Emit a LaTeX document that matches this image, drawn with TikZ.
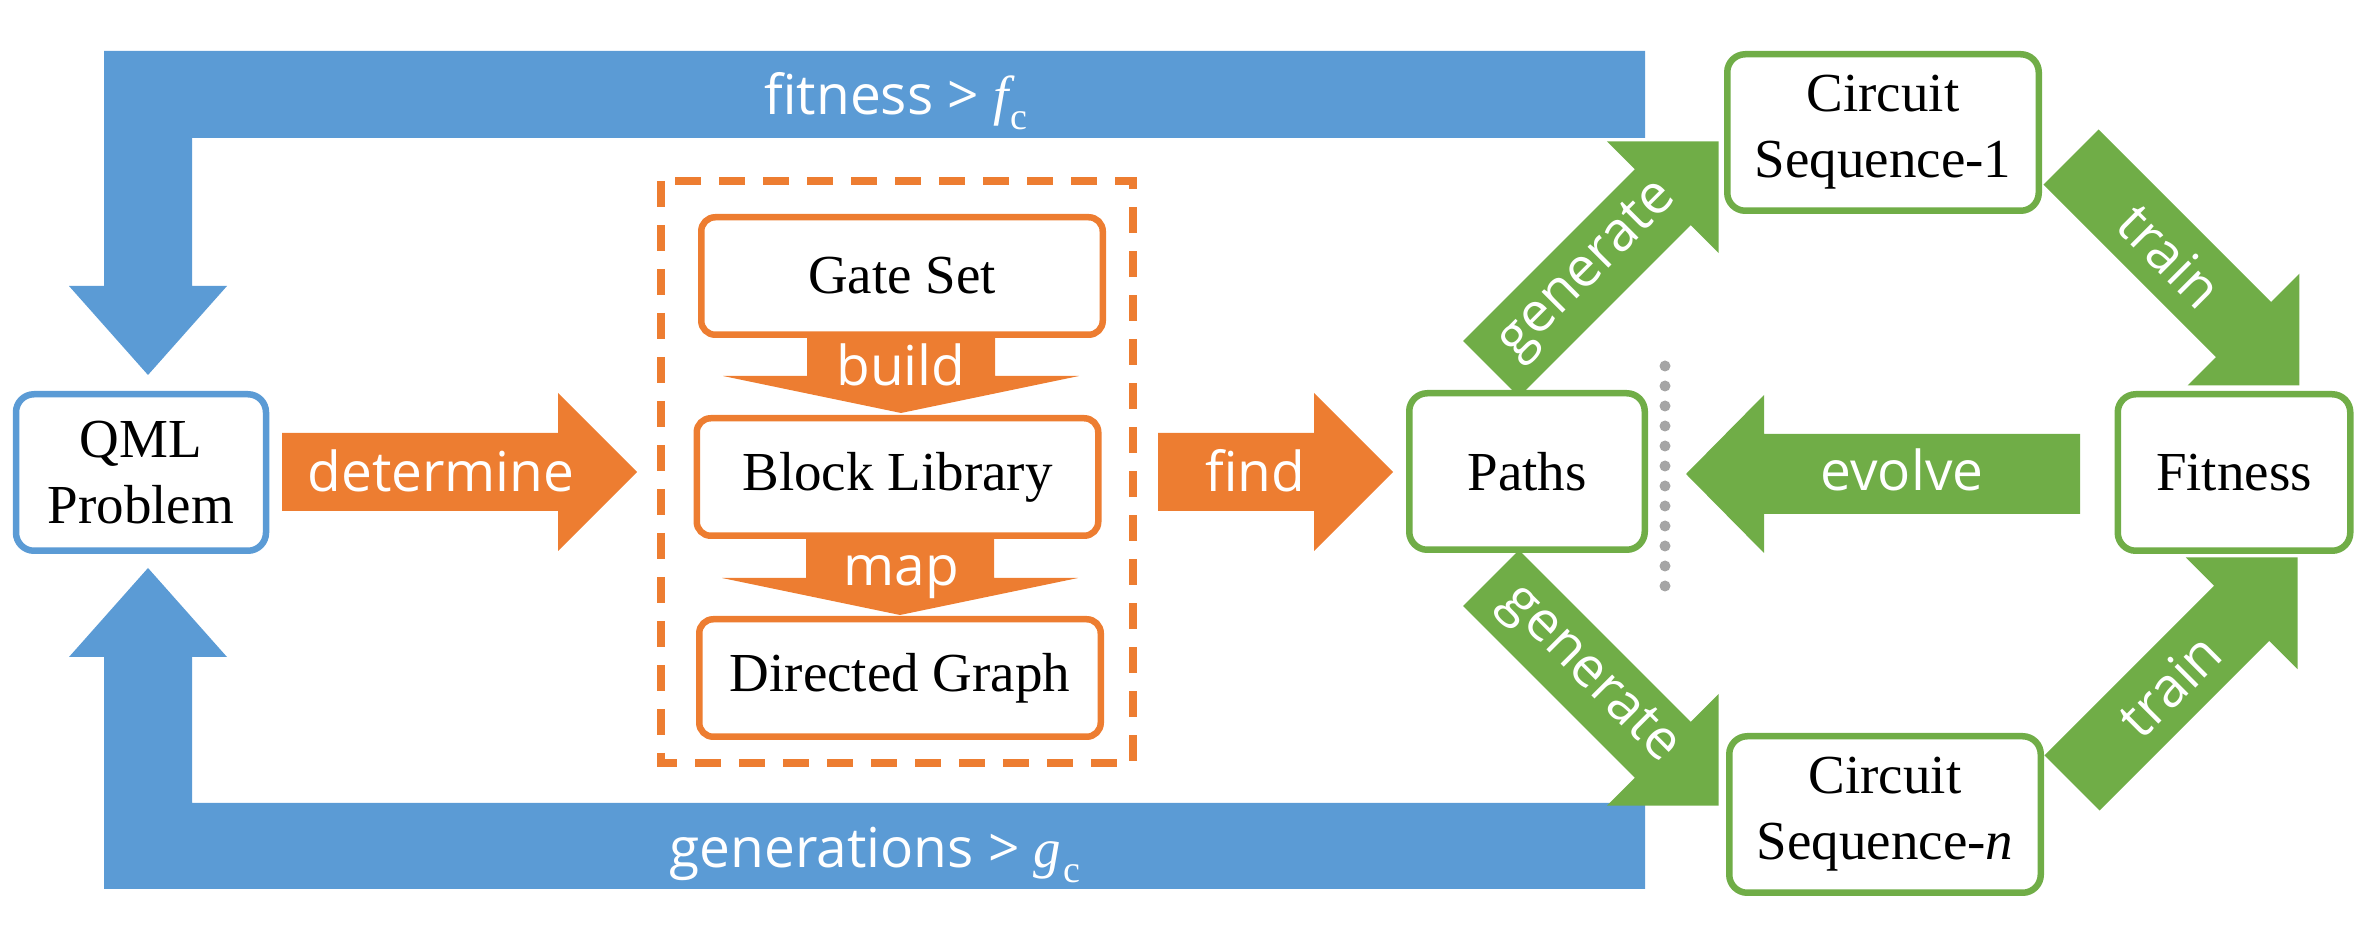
\documentclass[tikz,border=0pt]{standalone}
\usepackage{fontspec}
\setmainfont{Liberation Serif}
\newfontfamily\osans{Open Sans}
\definecolor{oblue}{HTML}{5B9BD5}
\definecolor{oorange}{HTML}{ED7D31}
\definecolor{ogreen}{HTML}{70AD47}
\definecolor{ogray}{HTML}{A5A5A5}
% #1 colour, #2 tail point, #3 angle, #4 length, #5 shaft half width, #6 head half width, #7 head length
\newcommand\fatarrow[7]{%
  \begin{scope}[shift={#2}, rotate=#3]
    \fill[#1] (0,-#5) -- ({#4-#7},-#5) -- ({#4-#7},-#6) -- (#4,0) -- ({#4-#7},#6) -- ({#4-#7},#5) -- (0,#5) -- cycle;
  \end{scope}}
\begin{document}
\begin{tikzpicture}[x=0.5pt,y=-0.5pt,
  box/.style={draw, fill=white, line width=3.25pt, rounded corners=9pt, align=center, inner sep=0pt, font=\fontsize{27.5}{33}\selectfont},
  atext/.style={text=white, font=\osans\fontsize{27.5}{30}\selectfont, inner sep=0pt},
  bigbox/.style={box, minimum width=124pt, minimum height=78.25pt},
  libbox/.style={box, draw=oorange, minimum width=200.75pt, minimum height=58.75pt, rounded corners=7pt},
  seqbox/.style={box, draw=ogreen, minimum width=155.75pt, minimum height=78.25pt},
]
\useasboundingbox (0,0) rectangle (2363,945);

% blue feedback arrows
\fill[oblue] (1645,51) -- (104,51) -- (104,286) -- (69,286) -- (148,375) -- (227,286) -- (192,286) -- (192,138) -- (1645,138) -- cycle;
\fill[oblue] (1645,889) -- (104,889) -- (104,657) -- (69,657) -- (148,568) -- (227,657) -- (192,657) -- (192,803) -- (1645,803) -- cycle;
\node[atext, anchor=base] (fit) at (896,115) {fitness > {\rmfamily\itshape f}\kern1pt\raisebox{-7.5pt}{\rmfamily\fontsize{19}{19}\selectfont c}};
\node[atext, anchor=base] (gen) at (875,868) {generations > {\rmfamily\itshape g}\kern1pt\raisebox{-7.5pt}{\rmfamily\fontsize{19}{19}\selectfont c}};

% orange arrows
\fatarrow{oorange}{(282,472)}{0}{355}{39}{79}{79}
\fatarrow{oorange}{(1158,472)}{0}{235}{39}{79}{79}
\fatarrow{oorange}{(901,330)}{-90}{83}{94}{178}{37}
\fatarrow{oorange}{(900,532)}{-90}{83}{94}{178}{37}

% green arrows
\fatarrow{ogreen}{(1491,369)}{45}{322}{39.5}{79}{79}
\fatarrow{ogreen}{(1491,578)}{-45}{322}{39.5}{79}{79}
\fatarrow{ogreen}{(2071,157)}{-45}{323}{39}{79}{79}
\fatarrow{ogreen}{(2072,783)}{45}{319}{39}{79}{79}
\fatarrow{ogreen}{(2080,474)}{180}{394}{40}{79}{78}

% arrow labels
\node[atext, anchor=base] (tdet) at (441,492) {determine};
\node[atext, anchor=base] (tfind) at (1255,492) {find};
\node[atext, anchor=base] (tbuild) at (901,386) {build};
\node[atext, anchor=base] (tmap) at (901,586) {map};
\node[atext, anchor=base] (tevo) at (1902,491) {evolve};
\node[atext, rotate=45] (tgen1) at (1588.6,271.4) {generate};
\node[atext, rotate=-45] (tgen2) at (1588.6,675.6) {generate};
\node[atext, rotate=-45] (ttr1) at (2170,256) {train};
\node[atext, rotate=45] (ttr2) at (2169.6,685.4) {train};

% dashed container and divider
\draw[oorange, line width=4pt, dash pattern=on 13pt off 9pt] (661,181) rectangle (1133,763);
\draw[ogray, line width=5.5pt, line cap=round, dash pattern=on 0pt off 10pt] (1665,366) -- (1665,588);

% boxes
\node[bigbox, draw=oblue, minimum width=125pt] (qml) at (141,472.5) {QML\\Problem};
\node[libbox] (gate) at (902,276) {Gate Set};
\node[libbox] (block) at (897.5,477) {Block Library};
\node[libbox] (graph) at (900,678) {Directed Graph};
\node[bigbox, draw=ogreen, minimum width=117.75pt] (paths) at (1527,471.5) {Paths};
\node[bigbox, draw=ogreen, minimum width=116.25pt] (fitness) at (2234,472.5) {Fitness};
\node[seqbox] (cs1) at (1883,132.5) {Circuit\\Sequence-1};
\node[seqbox] (csn) at (1885,814.5) {Circuit\\Sequence-\textit{n}};
\end{tikzpicture}
\end{document}
